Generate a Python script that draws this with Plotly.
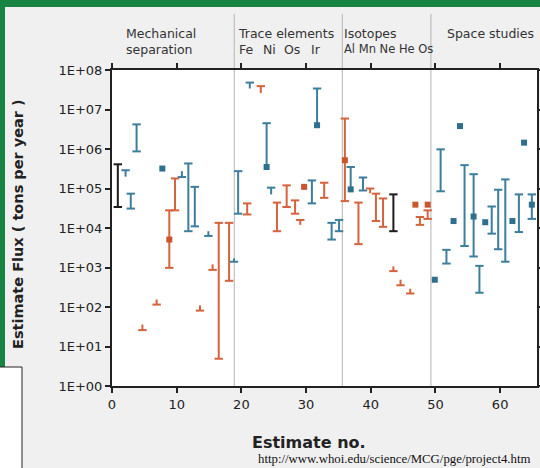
import plotly.graph_objects as go

# ---------------- data ----------------
# error bars: x position, low value, high value, cap style ('b' both, 't' top only, 'l' low only)
blue_x    = [2.1, 2.9, 3.8, 10.8, 11.8, 12.8, 14.9, 18.85, 19.5, 21.3, 23.9, 24.6, 30.9, 31.7,
             33.95, 35.1, 36.9, 38.8, 50.8, 51.7, 54.5, 55.9, 56.8, 58.7, 59.7, 60.8, 62.9, 64.9]
blue_lo   = [2.0e5, 3.1e4, 8.7e5, 1.95e5, 8.3e3, 1.1e4, 6.3e3, 1.4e3, 2.3e4, 3.4e7, 3.5e5, 7.1e4, 4.2e4, 4.0e6,
             5.1e3, 8.3e3, 9.5e4, 8.9e4, 8.5e4, 1.26e3, 3.5e3, 1.9e3, 230, 7.2e3, 2.9e3, 1.4e3, 7.9e3, 1.7e4]
blue_hi   = [2.9e5, 7.4e4, 4.2e6, 2.75e5, 4.3e5, 1.1e5, 8.3e3, 1.7e3, 2.75e5, 4.8e7, 4.5e6, 1.05e5, 1.6e5, 3.4e7,
             1.35e4, 1.6e4, 3.5e5, 1.9e5, 9.8e5, 2.8e3, 3.9e5, 2.3e5, 1.1e3, 3.5e4, 9.3e4, 1.7e5, 7.1e4, 7.1e4]
blue_caps = ['t', 'b', 'b', 'l', 'b', 'b', 'l', 'l', 'b', 't', 't', 't', 'b', 't',
             'b', 'b', 't', 'b', 'b', 'b', 'b', 'b', 'b', 'b', 'b', 'b', 'b', 'b']

orange_x    = [4.7, 6.9, 8.86, 9.74, 13.6, 15.55, 16.5, 18.1, 20.9, 23.0, 25.5, 27.0, 28.3, 29.1,
               32.8, 36.0, 38.1, 39.9, 40.8, 41.9, 43.5, 44.6, 46.1, 47.6, 48.8]
orange_lo   = [26, 115, 980, 2.8e4, 81, 870, 4.9, 460, 2.2e4, 2.6e7, 8.3e3, 3.4e4, 2.3e4, 1.2e4,
               5.8e4, 4.8e4, 3.9e3, 7.6e4, 1.5e4, 1.07e4, 810, 355, 220, 1.2e4, 1.7e4]
orange_hi   = [36, 155, 2.8e4, 1.8e5, 110, 1.2e3, 1.35e4, 1.35e4, 4.2e4, 3.9e7, 4.4e4, 1.2e5, 5.0e4, 1.6e4,
               1.4e5, 5.9e6, 4.4e4, 1.0e5, 7.4e4, 5.6e4, 1.07e3, 490, 290, 1.9e4, 2.8e4]
orange_caps = ['l', 'l', 'b', 'b', 'l', 'l', 'b', 'b', 'b', 't', 'b', 'b', 'b', 't',
               'b', 'b', 'b', 't', 'b', 'b', 'l', 'l', 'l', 'b', 'b']

black_x    = [0.9, 43.5]
black_lo   = [3.4e4, 8.3e3]
black_hi   = [4.1e5, 7.1e4]
black_caps = ['b', 'b']

# single point estimates (square markers)
blue_pt_x = [7.78, 23.9, 31.7, 36.9, 49.9, 52.8, 53.8, 55.9, 57.7, 61.9, 63.7, 64.9]
blue_pt_y = [3.2e5, 3.5e5, 4.0e6, 9.5e4, 490, 1.5e4, 3.8e6, 1.95e4, 1.4e4, 1.5e4, 1.45e6, 3.9e4]
orange_pt_x = [8.86, 29.7, 36.0, 46.9, 48.8]
orange_pt_y = [5.1e3, 1.1e5, 5.2e5, 3.9e4, 3.9e4]

section_bounds = [18.9, 35.6, 49.3]

y_tickvals = [1, 10, 1e2, 1e3, 1e4, 1e5, 1e6, 1e7, 1e8]
y_ticktext = ['1E+00', '1E+01', '1E+02', '1E+03', '1E+04', '1E+05', '1E+06', '1E+07', '1E+08']
x_tickvals = [0, 10, 20, 30, 40, 50, 60]

# ---------------- styling ----------------
BLUE = '#3d7e9d'
ORANGE = '#d5633d'
BLACK = '#1c1c1c'
GREEN = '#178443'
PAPER = '#f0f0f0'
CAP = 0.65          # half width of caps in x units
W, H = 540, 468
L, R, T, B = 112, 3, 70, 82


def px(xp):
    return (xp - L) / (W - L - R)


def py(yp):
    return (H - B - yp) / (H - T - B)


def bar_path(xs, los, his, caps):
    X, Y = [], []
    for x, lo, hi, c in zip(xs, los, his, caps):
        X += [x, x, None]
        Y += [lo, hi, None]
        if c in ('b', 't'):
            X += [x - CAP, x + CAP, None]
            Y += [hi, hi, None]
        if c in ('b', 'l'):
            X += [x - CAP, x + CAP, None]
            Y += [lo, lo, None]
    return X, Y


fig = go.Figure()
for xs, los, his, caps, col in [(blue_x, blue_lo, blue_hi, blue_caps, BLUE),
                                (orange_x, orange_lo, orange_hi, orange_caps, ORANGE),
                                (black_x, black_lo, black_hi, black_caps, BLACK)]:
    X, Y = bar_path(xs, los, his, caps)
    fig.add_trace(go.Scatter(x=X, y=Y, mode='lines', line=dict(color=col, width=2),
                             connectgaps=False, hoverinfo='skip', showlegend=False))

fig.add_trace(go.Scatter(x=blue_pt_x, y=blue_pt_y, mode='markers',
                         marker=dict(symbol='square', size=6, color='#2f6f8e'), showlegend=False))
fig.add_trace(go.Scatter(x=orange_pt_x, y=orange_pt_y, mode='markers',
                         marker=dict(symbol='square', size=6, color='#c9552f'), showlegend=False))

shapes = []
for xb in section_bounds:
    shapes.append(dict(type='line', xref='x', yref='paper', x0=xb, x1=xb, y0=0, y1=py(14),
                       line=dict(color='#b4b4b4', width=1), layer='below'))
# green frame
shapes.append(dict(type='rect', xref='paper', yref='paper', x0=px(0), x1=px(W), y0=py(7), y1=py(0),
                   fillcolor=GREEN, line=dict(width=0), layer='above'))
shapes.append(dict(type='rect', xref='paper', yref='paper', x0=px(0), x1=px(5), y0=py(367), y1=py(0),
                   fillcolor=GREEN, line=dict(width=0), layer='above'))
# white box bottom-left
shapes.append(dict(type='rect', xref='paper', yref='paper', x0=px(-2), x1=px(22), y0=py(H + 2), y1=py(367),
                   fillcolor='white', line=dict(color='#222', width=1), layer='above'))

HF = dict(family='DejaVu Sans', size=12.5, color='#333')
ann = []


def txt(s, x, y, font=HF, **kw):
    ann.append(dict(text=s, xref='paper', yref='paper', x=px(x), y=py(y), showarrow=False,
                    xanchor=kw.get('xanchor', 'left'), yanchor='middle', font=font,
                    textangle=kw.get('textangle', 0)))


txt('Mechanical', 124, 33)
txt('separation', 124, 49)
txt('Trace elements', 236, 33)
for s, xx in [('Fe', 237), ('Ni', 261), ('Os', 282), ('Ir', 309)]:
    txt(s, xx, 49)
txt('Isotopes', 342, 33)
txt('Al Mn Ne He Os', 342, 49, font=dict(family='DejaVu Sans', size=11.5, color='#333'))
txt('Space studies', 445, 33)

txt('<b>Estimate Flux ( tons per year )</b>', 18, 224,
    font=dict(family='DejaVu Sans', size=14.5, color='#222'), xanchor='center', textangle=-90)
txt('<b>Estimate no.</b>', 309, 442, font=dict(family='DejaVu Sans', size=16, color='#222'), xanchor='center')
txt('http://www.whoi.edu/science/MCG/pge/project4.htm', 256, 459,
    font=dict(family='Liberation Serif', size=12.8, color='#111'))

axis_common = dict(showgrid=False, zeroline=False, showline=True, linecolor='#222', linewidth=2,
                   mirror='ticks', ticks='outside', ticklen=5, tickwidth=2, tickcolor='#222',
                   tickfont=dict(family='DejaVu Sans', size=13, color='#222'))

fig.update_layout(
    width=W, height=H, margin=dict(l=L, r=R, t=T, b=B, autoexpand=False),
    paper_bgcolor=PAPER, plot_bgcolor='white',
    xaxis=dict(range=[0, 65.7], tickvals=x_tickvals, **axis_common),
    yaxis=dict(type='log', range=[0, 8], tickvals=y_tickvals, ticktext=y_ticktext, **axis_common),
    shapes=shapes, annotations=ann, showlegend=False,
)

fig.write_html('out.html', config={'displayModeBar': False},
               post_script="document.body.style.margin='0';document.body.style.overflow='hidden';")
